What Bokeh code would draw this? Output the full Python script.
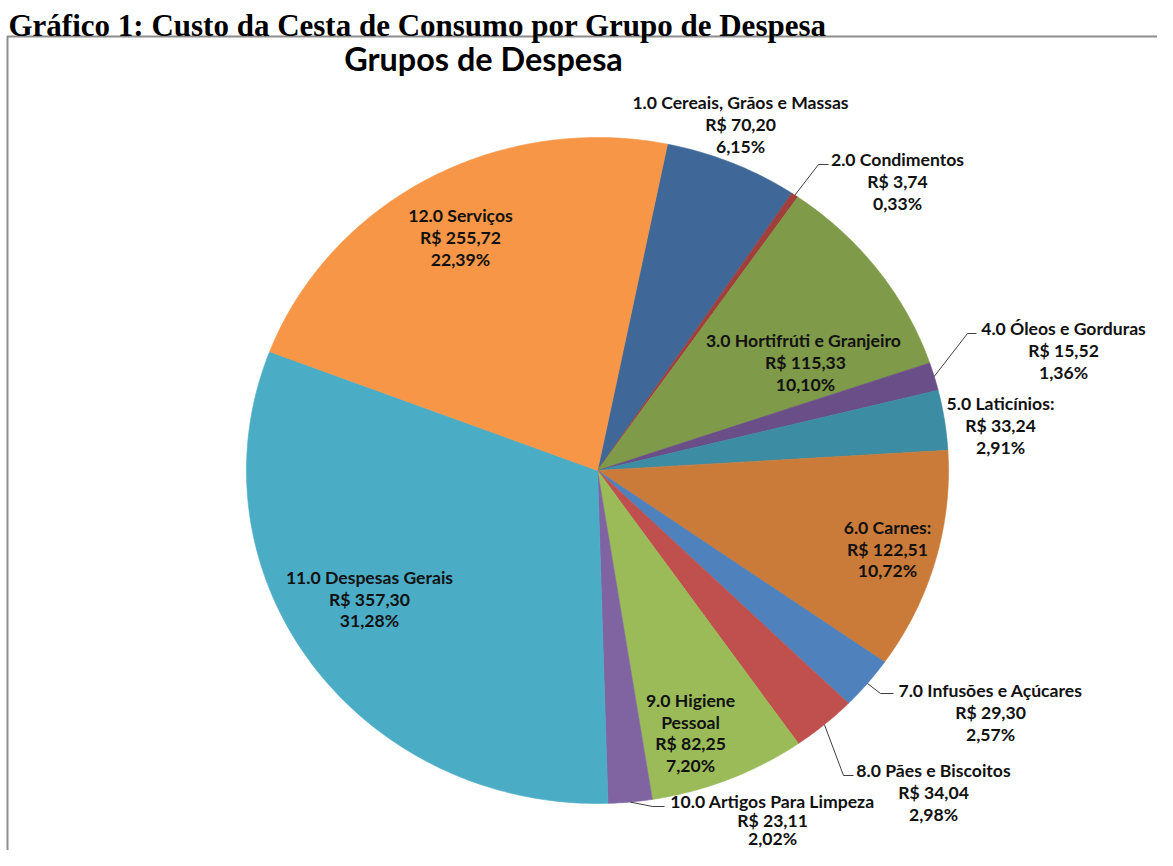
import numpy as np
from bokeh.plotting import figure
from bokeh.models import Range1d
from bokeh.embed import file_html
from bokeh.resources import INLINE
from bokeh.core.properties import value

# ---------------- data ----------------
codes = ["1.0", "2.0", "3.0", "4.0", "5.0", "6.0", "7.0", "8.0", "9.0", "10.0", "11.0", "12.0"]
names = ["Cereais, Grãos e Massas", "Condimentos", "Hortifrúti  e Granjeiro", "Óleos e Gorduras",
         "Laticínios:", "Carnes:", "Infusões e Açúcares", "Pães e Biscoitos", "Higiene Pessoal",
         "Artigos Para Limpeza", "Despesas Gerais", "Serviços"]
values = [70.20, 3.74, 115.33, 15.52, 33.24, 122.51, 29.30, 34.04, 82.25, 23.11, 357.30, 255.72]
pct_labels = ["6,15%", "0,33%", "10,10%", "1,36%", "2,91%", "10,72%", "2,57%", "2,98%", "7,20%",
              "2,02%", "31,28%", "22,39%"]
colors = ["#3F6899", "#A0403D", "#7F9A48", "#694E87", "#3C8CA3", "#CB7B39",
          "#4F81BD", "#C0504D", "#9BBB59", "#8064A2", "#4BACC6", "#F79646"]

chart_title = "Grupos de Despesa"
page_title = "Gráfico 1: Custo da Cesta de Consumo por Grupo de Despesa"

# ---------------- layout (pixel-like data space, y downward) ----------------
W, H = 1157, 850
CX, CY, RX, RY = 597, 470, 351, 333
START_DEG = 11.5
label_pos = [(740, 102), (897, 159), (805, 340), (1063, 328), (1000, 403), (887, 527),
             (990, 690), (933, 770), (690, 700), (772, 801), (369, 577), (460, 215)]
line_h = [22, 22, 22, 22, 22, 21.5, 22, 22, 21.5, 18.5, 21.5, 22]
wrap = {8: ["9.0 Higiene", "Pessoal"]}
leaders = {1: [(818, 164), (828, 164)], 3: [(967, 333), (976, 333)],
           6: [(880, 693), (893, 693)], 7: [(843, 775), (853, 775)],
           9: [(652, 806), (664, 806)]}

p = figure(width=W, height=H, x_range=Range1d(0, W), y_range=Range1d(H, 0),
           output_backend="svg", toolbar_location=None, x_axis_type=None, y_axis_type=None,
           min_border=0, outline_line_color=None)
p.grid.visible = False
p.background_fill_color = "white"
p.border_fill_color = "white"

# chart frame (grey border, right/bottom run off-page)
p.quad(left=[7], right=[W + 60], top=[36], bottom=[H + 60], fill_color=None,
       line_color="#8C8C8C", line_width=2)

# slices
total = float(sum(values))
fr = np.array(values) / total
cum = np.concatenate([[0], np.cumsum(fr)])
xs, ys, mids = [], [], []
for i in range(len(values)):
    a0 = np.deg2rad(START_DEG + 360 * cum[i])
    a1 = np.deg2rad(START_DEG + 360 * cum[i + 1])
    t = np.linspace(a0, a1, max(8, int(400 * fr[i]) + 8))
    px = np.concatenate([[CX], CX + RX * np.sin(t)])
    py = np.concatenate([[CY], CY - RY * np.cos(t)])
    xs.append(list(px))
    ys.append(list(py))
    mids.append((a0 + a1) / 2)
p.patches(xs=xs, ys=ys, fill_color=colors, line_color=colors, line_width=0.6)

# leader lines
for i, pts in leaders.items():
    m = mids[i]
    lx = [CX + RX * np.sin(m)] + [q[0] for q in pts]
    ly = [CY - RY * np.cos(m)] + [q[1] for q in pts]
    p.line(lx, ly, line_color="#404040", line_width=1)

# data labels
tx, ty, tt = [], [], []
for i in range(len(values)):
    first = wrap.get(i, [codes[i] + " " + names[i]])
    v = ("%.2f" % values[i]).replace(".", ",")
    lines = first + ["R$ " + v, pct_labels[i]]
    x0, y0 = label_pos[i]
    for k, s in enumerate(lines):
        tx.append(x0)
        ty.append(y0 + k * line_h[i])
        tt.append(s)
p.text(x=tx, y=ty, text=tt, text_align="center", text_baseline="middle",
       text_font=value("Lato"), text_font_style="bold", text_font_size="17.6px",
       text_color="#111111")

# chart title
p.text(x=[483], y=[58], text=[chart_title], text_align="center", text_baseline="middle",
       text_font=value("Lato"), text_font_style="bold", text_font_size="32.4px", text_color="#000000")

# page title
p.text(x=[8], y=[25], text=[page_title], text_align="left", text_baseline="alphabetic",
       text_font=value("Liberation Serif"), text_font_style="bold", text_font_size="31px",
       text_color="#000000")

open("out.html", "w").write(file_html(p, INLINE))
